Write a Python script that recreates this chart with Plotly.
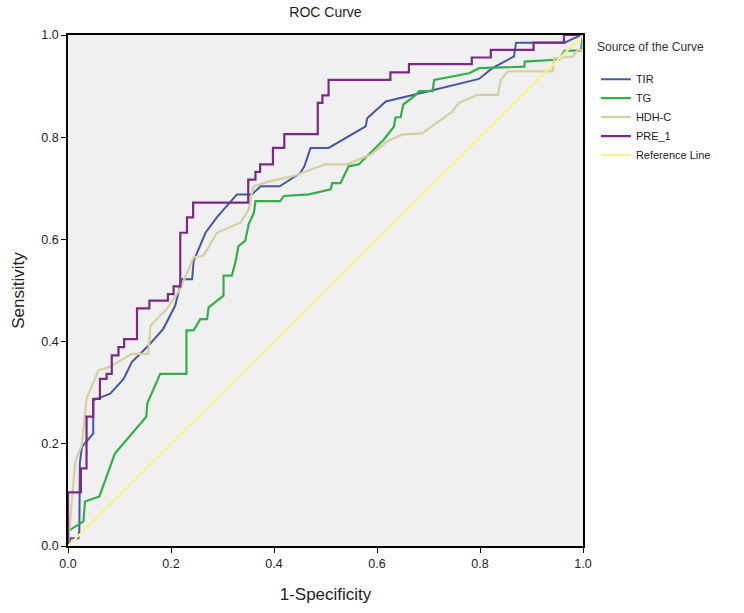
import plotly.graph_objects as go

tir_x = [0, 0.005, 0.02, 0.022, 0.023, 0.027, 0.049, 0.049, 0.082, 0.108, 0.124, 0.156, 0.185, 0.208, 0.221, 0.241, 0.244, 0.267, 0.289, 0.318, 0.328, 0.357, 0.374, 0.411, 0.451, 0.459, 0.471, 0.506, 0.578, 0.581, 0.617, 0.672, 0.798, 0.824, 0.866, 0.87, 0.964, 0.996, 1.0]
tir_y = [0, 0.015, 0.015, 0.03, 0.162, 0.194, 0.22, 0.285, 0.298, 0.327, 0.36, 0.392, 0.425, 0.47, 0.522, 0.522, 0.558, 0.613, 0.643, 0.678, 0.688, 0.688, 0.704, 0.704, 0.73, 0.743, 0.779, 0.779, 0.821, 0.837, 0.87, 0.883, 0.914, 0.935, 0.958, 0.985, 0.985, 1.0, 1.0]

tg_x = [0, 0, 0.03, 0.033, 0.061, 0.091, 0.152, 0.154, 0.179, 0.23, 0.23, 0.244, 0.257, 0.27, 0.273, 0.302, 0.302, 0.318, 0.325, 0.331, 0.344, 0.351, 0.361, 0.364, 0.412, 0.419, 0.468, 0.51, 0.513, 0.529, 0.545, 0.565, 0.613, 0.633, 0.636, 0.646, 0.651, 0.672, 0.682, 0.708, 0.711, 0.779, 0.798, 0.886, 0.887, 0.954, 0.964, 0.996, 1.0]
tg_y = [0, 0.029, 0.048, 0.087, 0.097, 0.181, 0.253, 0.279, 0.337, 0.337, 0.422, 0.422, 0.444, 0.444, 0.467, 0.49, 0.529, 0.529, 0.555, 0.587, 0.597, 0.63, 0.652, 0.675, 0.675, 0.685, 0.688, 0.698, 0.71, 0.71, 0.743, 0.747, 0.795, 0.821, 0.839, 0.839, 0.864, 0.88, 0.89, 0.89, 0.912, 0.925, 0.935, 0.938, 0.948, 0.952, 0.969, 0.97, 1.0]

hdl_x = [0, 0.005, 0.014, 0.027, 0.036, 0.059, 0.08, 0.124, 0.156, 0.16, 0.192, 0.218, 0.244, 0.263, 0.289, 0.335, 0.351, 0.36, 0.393, 0.438, 0.5, 0.542, 0.588, 0.62, 0.649, 0.688, 0.746, 0.759, 0.795, 0.835, 0.84, 0.854, 0.941, 0.944, 0.98, 0.99, 1.0, 1.0]
hdl_y = [0, 0.06, 0.165, 0.198, 0.288, 0.344, 0.35, 0.376, 0.376, 0.431, 0.464, 0.503, 0.565, 0.568, 0.613, 0.633, 0.659, 0.704, 0.714, 0.724, 0.747, 0.747, 0.766, 0.792, 0.805, 0.808, 0.85, 0.867, 0.883, 0.883, 0.912, 0.929, 0.929, 0.954, 0.958, 0.971, 0.971, 1.0]

pre_x = [0, 0, 0.025, 0.025, 0.036, 0.036, 0.049, 0.049, 0.062, 0.062, 0.075, 0.075, 0.085, 0.085, 0.098, 0.098, 0.109, 0.109, 0.134, 0.134, 0.158, 0.158, 0.194, 0.194, 0.205, 0.205, 0.218, 0.218, 0.231, 0.231, 0.243, 0.243, 0.35, 0.35, 0.364, 0.364, 0.373, 0.373, 0.398, 0.398, 0.42, 0.42, 0.485, 0.485, 0.494, 0.494, 0.506, 0.506, 0.626, 0.626, 0.662, 0.662, 0.784, 0.784, 0.821, 0.821, 0.904, 0.904, 0.963, 0.963, 1.0]
pre_y = [0, 0.105, 0.105, 0.152, 0.152, 0.253, 0.253, 0.288, 0.288, 0.327, 0.327, 0.337, 0.337, 0.373, 0.373, 0.389, 0.389, 0.405, 0.405, 0.465, 0.465, 0.48, 0.48, 0.493, 0.493, 0.508, 0.508, 0.613, 0.613, 0.643, 0.643, 0.672, 0.672, 0.717, 0.717, 0.732, 0.732, 0.747, 0.747, 0.779, 0.779, 0.806, 0.806, 0.867, 0.867, 0.882, 0.882, 0.912, 0.912, 0.927, 0.927, 0.943, 0.943, 0.956, 0.956, 0.971, 0.971, 0.985, 0.985, 1.0, 1.0]

ref_x = [0, 1]
ref_y = [0, 1]

tick_vals = [0.0, 0.2, 0.4, 0.6, 0.8, 1.0]
tick_text = ["0.0", "0.2", "0.4", "0.6", "0.8", "1.0"]

series = [
    ("TIR", tir_x, tir_y, "#4357A8", 2),
    ("TG", tg_x, tg_y, "#33AE4A", 2.2),
    ("HDH-C", hdl_x, hdl_y, "#D5CFA3", 2.2),
    ("PRE_1", pre_x, pre_y, "#7A2A82", 2.2),
    ("Reference Line", ref_x, ref_y, "#F6F28C", 2.2),
]

fig = go.Figure()
for name, xs, ys, color, w in series:
    fig.add_trace(go.Scatter(x=xs, y=ys, mode="lines", name=name,
                             line=dict(color=color, width=w)))

FONT = "Liberation Sans, Arial, sans-serif"
fig.update_layout(
    width=744, height=613,
    margin=dict(l=68, r=161, t=35, b=65),
    paper_bgcolor="white",
    plot_bgcolor="#F0F0F0",
    font=dict(family=FONT, color="#222222", size=12),
    title=dict(text="ROC Curve", x=0.4375, xanchor="center", y=0.98, yanchor="middle",
               font=dict(size=14, family=FONT, color="#222222")),
    showlegend=True,
    legend=dict(x=1.025, xanchor="left", y=0.942, yanchor="top",
                font=dict(size=11, family=FONT, color="#222222"),
                bgcolor="rgba(0,0,0,0)", itemwidth=30, tracegroupgap=0),
    xaxis=dict(range=[0, 1], tickvals=tick_vals, ticktext=tick_text,
               showgrid=False, zeroline=False, showline=True, linecolor="black",
               linewidth=1.5, mirror=True, ticks="outside", ticklen=5, tickcolor="black",
               tickfont=dict(size=12.5),
               title=dict(text="1-Specificity", font=dict(size=17), standoff=18)),
    yaxis=dict(range=[0, 1], tickvals=tick_vals, ticktext=tick_text,
               showgrid=False, zeroline=False, showline=True, linecolor="black",
               linewidth=1.5, mirror=True, ticks="outside", ticklen=5, tickcolor="black",
               tickfont=dict(size=12.5),
               title=dict(text="Sensitivity", font=dict(size=17), standoff=12)),
    annotations=[dict(text="Source of the Curve", xref="paper", yref="paper",
                      x=1.023, y=0.976, xanchor="left", yanchor="middle", showarrow=False,
                      font=dict(size=12, family=FONT, color="#333333"))],
)

fig.write_html("out.html")
